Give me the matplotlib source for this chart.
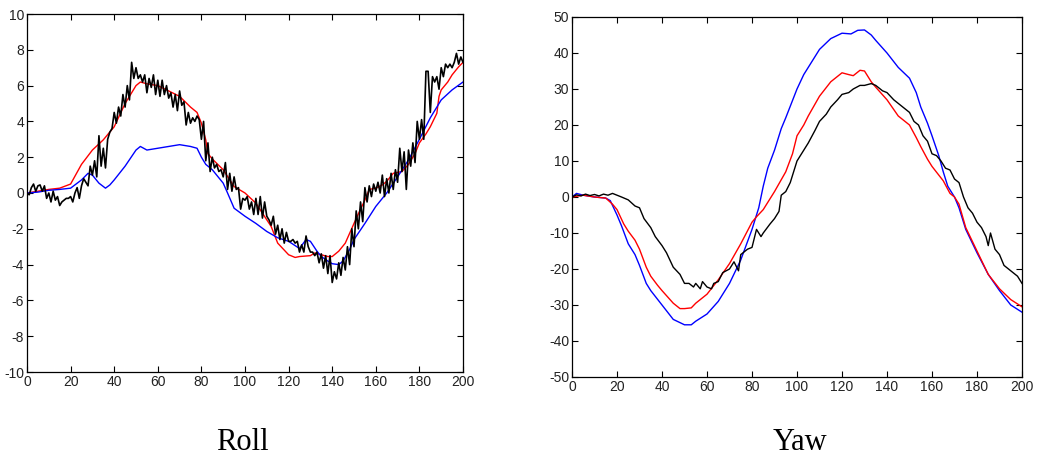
import matplotlib
matplotlib.use('Agg')
import matplotlib.pyplot as plt
import numpy as np

# ---- Roll ----
roll_black = [0.0, -0.1, 0.3, 0.5, 0.1, 0.4, 0.45, 0.1, 0.4, -0.3,
              0.0, -0.5, 0.1, -0.4, -0.2, -0.7, -0.5, -0.4, -0.3, -0.3,
              -0.2, -0.5, 0.0, 0.3, -0.3, 0.4, 0.8, 0.6, 0.4, 1.5,
              1.0, 1.8, 0.9, 3.2, 1.5, 2.5, 1.4, 3.0, 3.4, 3.6,
              4.5, 3.9, 4.8, 4.3, 5.5, 4.8, 6.0, 5.2, 7.3, 6.4,
              7.0, 6.4, 6.6, 6.2, 6.6, 5.6, 6.4, 5.9, 6.6, 5.5,
              6.3, 5.4, 6.3, 5.5, 6.0, 5.3, 5.6, 4.8, 5.5, 4.6,
              5.7, 4.9, 5.1, 3.8, 4.5, 3.9, 4.2, 4.0, 4.3, 4.1,
              3.0, 4.0, 1.8, 2.8, 1.2, 2.0, 1.4, 1.6, 1.2, 1.3,
              0.9, 1.7, 0.2, 1.1, 0.1, 0.9, 0.2, 0.3, -0.9, -0.3,
              -0.4, -0.2, -0.9, -0.5, -1.2, -0.3, -1.2, -0.2, -1.4, -0.5,
              -1.3, -1.5, -1.8, -1.3, -2.3, -1.8, -2.6, -2.0, -2.8, -2.2,
              -2.7, -2.7, -2.6, -2.8, -2.7, -3.3, -2.9, -3.3, -2.4, -3.0,
              -3.3, -3.3, -3.5, -3.3, -3.9, -3.4, -4.2, -3.5, -4.5, -3.5,
              -5.0, -4.4, -4.8, -3.9, -4.6, -3.6, -4.3, -3.0, -4.0, -2.0,
              -3.0, -1.0, -2.0, -0.5, -1.6, 0.3, -0.5, 0.4, -0.2, 0.5,
              0.1, 0.6, 0.0, 1.0, -0.2, 0.8, 0.0, 1.1, 0.2, 1.3,
              0.6, 2.5, 1.2, 2.3, 0.2, 2.4, 1.5, 2.8, 1.7, 4.0,
              3.0, 4.1, 3.0, 6.8, 6.8, 4.5, 6.5, 6.2, 6.5, 5.8,
              7.0, 6.5, 7.2, 7.0, 7.2, 7.0, 7.3, 7.8, 7.2, 7.6,
              7.3]

roll_red_x = [0, 10, 15, 20, 25, 30, 35, 40, 45, 50, 52, 55, 60, 65, 70, 75, 78,
              80, 82, 83, 85, 90, 95, 100, 105, 110, 112, 115, 120, 123, 125,
              130, 132, 135, 138, 140, 143, 146, 150, 153, 155, 157, 160, 163,
              165, 168, 172, 175, 178, 180, 183, 185, 188, 189, 190, 193, 195,
              198, 200]
roll_red_y = [0.0, 0.2, 0.27, 0.5, 1.6, 2.4, 2.97, 3.7, 5.0, 6.0, 6.2, 6.1, 6.0,
              5.7, 5.4, 4.8, 4.5, 3.9, 2.97, 2.2, 1.9, 1.3, 0.36, 0.0, -0.57,
              -1.5, -1.87, -2.8, -3.45, -3.6, -3.55, -3.5, -3.35, -3.45, -3.55,
              -3.55, -3.25, -2.8, -1.7, -0.9, -0.4, 0.2, 0.27, 0.45, 0.65, 1.1,
              1.2, 1.6, 2.2, 2.8, 3.3, 3.7, 4.45, 5.4, 5.76, 6.2, 6.6, 7.05, 7.3]

roll_blue_x = [0, 5, 10, 15, 20, 25, 28, 30, 33, 36, 38, 40, 45, 50, 52, 55, 60,
               65, 70, 75, 78, 80, 82, 85, 90, 92, 95, 100, 105, 110, 115, 120,
               125, 128, 130, 133, 135, 138, 140, 143, 145, 148, 150, 155, 160,
               165, 170, 175, 180, 185, 190, 195, 200]
roll_blue_y = [0.0, 0.05, 0.15, 0.2, 0.27, 0.73, 1.1, 1.0, 0.55, 0.27, 0.45,
               0.73, 1.5, 2.4, 2.6, 2.4, 2.5, 2.6, 2.7, 2.6, 2.5, 2.0, 1.6, 1.3,
               0.55, 0.0, -0.85, -1.3, -1.7, -2.15, -2.5, -2.7, -3.1, -2.6, -2.7,
               -3.25, -3.55, -3.8, -3.95, -4.0, -3.8, -3.15, -2.6, -1.7, -0.75,
               0.0, 0.9, 1.85, 3.0, 4.2, 5.2, 5.76, 6.2]

# ---- Yaw ----
yaw_black_x = [0, 2, 4, 6, 8, 10, 12, 14, 16, 18, 20, 22, 25, 28, 30, 32, 35, 37,
               40, 42, 45, 48, 50, 52, 54, 55, 57, 58, 60, 62, 63, 65, 67, 70,
               72, 74, 75, 78, 80, 82, 84, 85, 88, 90, 92, 93, 95, 97, 100, 103,
               105, 108, 110, 113, 115, 118, 120, 123, 125, 128, 130, 133, 135,
               138, 140, 143, 145, 148, 150, 152, 154, 156, 158, 160, 162, 164,
               166, 168, 170, 172, 174, 176, 178, 180, 182, 184, 185, 186, 188,
               190, 192, 194, 196, 198, 200]
yaw_black_y = [0.0, 0.6, 0.3, 0.8, 0.4, 0.7, 0.3, 0.8, 0.5, 1.0, 0.5, 0.0, -0.8,
               -2.5, -3.0, -6.0, -8.5, -11.0, -13.5, -15.5, -19.5, -21.5, -24.0,
               -24.0, -25.0, -24.0, -25.5, -23.5, -25.0, -25.5, -24.0, -23.5,
               -21.0, -20.0, -18.0, -20.5, -16.0, -14.5, -14.0, -9.0, -11.0,
               -10.0, -7.5, -6.0, -4.0, 0.5, 1.5, 4.0, 10.0, 13.0, 15.0, 18.5,
               21.0, 23.0, 25.0, 27.0, 28.5, 29.0, 30.0, 31.0, 31.0, 31.5, 31.0,
               29.5, 29.0, 27.0, 26.0, 24.5, 23.5, 21.0, 20.0, 17.0, 15.5, 12.0,
               11.5, 10.0, 8.0, 7.5, 5.0, 4.0, 0.0, -3.0, -4.5, -7.0, -8.5,
               -11.0, -13.5, -10.0, -14.5, -16.0, -19.0, -20.0, -21.0, -22.0,
               -24.0]

yaw_red_x = [0, 5, 10, 15, 18, 20, 23, 25, 28, 30, 33, 35, 38, 40, 45, 48, 50,
             53, 55, 58, 60, 65, 70, 75, 80, 82, 85, 90, 95, 98, 100, 103, 105,
             110, 115, 120, 123, 125, 128, 130, 133, 135, 140, 145, 150, 153,
             155, 158, 160, 165, 168, 170, 172, 175, 180, 185, 190, 195, 200]
yaw_red_y = [0.0, 0.5, 0.0, -0.3, -2.0, -3.5, -7.5, -9.5, -12.0, -14.5, -19.5,
             -22.0, -24.5, -26.0, -29.5, -31.0, -31.0, -30.8, -29.5, -28.0,
             -27.0, -23.0, -18.5, -13.0, -7.0, -5.5, -3.5, 1.5, 7.0, 12.0, 17.0,
             20.0, 22.5, 28.0, 32.0, 34.5, 34.0, 33.7, 35.2, 35.0, 32.0, 30.5,
             27.0, 22.5, 20.0, 16.5, 14.0, 10.5, 8.5, 4.5, 1.0, 0.0, -2.0, -8.5,
             -15.0, -21.5, -25.5, -28.5, -30.5]

yaw_blue_x = [0, 2, 5, 10, 15, 17, 20, 22, 25, 28, 30, 33, 35, 40, 45, 50, 53,
              55, 60, 65, 70, 75, 80, 83, 85, 87, 90, 93, 95, 100, 103, 105, 110,
              115, 120, 124, 127, 130, 133, 135, 140, 145, 150, 153, 155, 158,
              160, 163, 165, 167, 170, 172, 175, 180, 185, 190, 195, 200]
yaw_blue_y = [0.0, 1.0, 0.5, 0.0, -0.3, -1.0, -5.0, -8.0, -13.0, -16.0, -19.0,
              -24.0, -26.0, -30.0, -34.0, -35.5, -35.5, -34.5, -32.5, -29.0,
              -24.0, -17.5, -9.0, -3.0, 3.0, 8.0, 13.0, 19.0, 22.0, 30.0, 34.0,
              36.0, 41.0, 44.0, 45.5, 45.3, 46.3, 46.4, 45.0, 43.5, 40.0, 36.0,
              33.0, 29.0, 25.0, 20.5, 17.0, 11.5, 7.0, 3.0, 0.0, -3.0, -9.0,
              -15.5, -21.5, -26.0, -30.0, -32.0]

xticks = np.arange(0, 201, 20)

plt.rcParams['font.family'] = ['Liberation Sans', 'DejaVu Sans']
plt.rcParams['axes.unicode_minus'] = False
fig = plt.figure(figsize=(10.5, 4.57), dpi=100)

ax1 = fig.add_axes([27 / 1050, 1 - 372 / 457, 436 / 1050, 358 / 457])
ax2 = fig.add_axes([572 / 1050, 1 - 377 / 457, 450 / 1050, 360 / 457])

ax1.plot(roll_red_x, roll_red_y, color='red', lw=1.0)
ax1.plot(roll_blue_x, roll_blue_y, color='blue', lw=1.0)
ax1.plot(np.arange(len(roll_black)), roll_black, color='black', lw=1.2)
ax1.set_ylim(-10, 10)
ax1.set_yticks(np.arange(-10, 11, 2))

ax2.plot(yaw_blue_x, yaw_blue_y, color='blue', lw=1.0)
ax2.plot(yaw_red_x, yaw_red_y, color='red', lw=1.0)
ax2.plot(yaw_black_x, yaw_black_y, color='black', lw=1.0)
ax2.set_ylim(-50, 50)
ax2.set_yticks(np.arange(-50, 51, 10))

for ax in (ax1, ax2):
    ax.set_xlim(0, 200)
    ax.set_xticks(xticks)
    ax.tick_params(direction='in', top=True, right=True, length=4, width=0.8,
                   labelsize=10, labelcolor='#222222', pad=2)
    for s in ax.spines.values():
        s.set_linewidth(0.9)

fig.text(242 / 1050, 7 / 457, 'Roll', family='Liberation Serif', fontsize=22,
         ha='center', va='baseline')
fig.text(800 / 1050, 7 / 457, 'Yaw', family='Liberation Serif', fontsize=22,
         ha='center', va='baseline')

plt.savefig('out.png', dpi=100)
